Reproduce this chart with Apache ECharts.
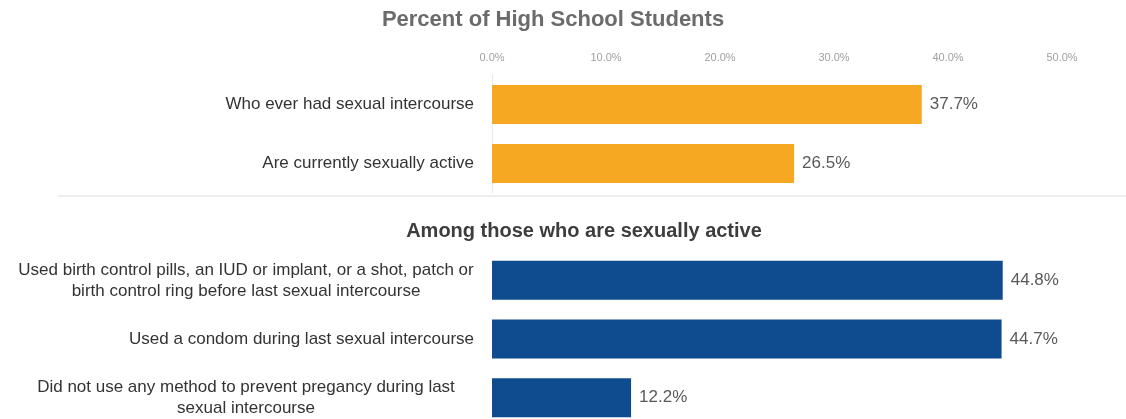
<!DOCTYPE html>
<html lang="en">
<head>
    <meta charset="UTF-8">
    <title>Percent of High School Students</title>
    <script src="https://cdn.jsdelivr.net/npm/echarts@6.0.0/dist/echarts.min.js"></script>
    <style>
        html, body { margin: 0; padding: 0; background: #fff; }
        #main { width: 1126px; height: 419px; }
    </style>
</head>
<body>
    <div id="main"></div>
    <script type="text/javascript">
        // data
        const topCategories = ['Who ever had sexual intercourse', 'Are currently sexually active'];
        const topValues = [37.7, 26.5];
        const bottomCategories = [
            'Used birth control pills, an IUD or implant, or a shot, patch or\nbirth control ring before last sexual intercourse',
            'Used a condom during last sexual intercourse',
            'Did not use any method to prevent pregancy during last\nsexual intercourse'
        ];
        const bottomValues = [44.8, 44.7, 12.2];
        const xTicks = [0, 10, 20, 30, 40, 50];

        const FONT = '"Liberation Sans", Arial, sans-serif';
        const LABEL_SIZE = 17;

        // measure text so multi-line labels get centred lines inside a right aligned block
        const ctx = document.createElement('canvas').getContext('2d');
        ctx.font = LABEL_SIZE + 'px ' + FONT;
        function catLabel(value) {
            const lines = value.split('\n');
            if (lines.length === 1) return value;
            return lines.map(l => '{c|' + l + '}').join('\n');
        }
        function richFor(cats) {
            let w = 0;
            cats.forEach(c => c.split('\n').forEach(l => { w = Math.max(w, ctx.measureText(l).width); }));
            return { c: { width: Math.ceil(w), align: 'center', fontSize: LABEL_SIZE, fontFamily: FONT, color: '#333', lineHeight: 21 } };
        }

        const chart = echarts.init(document.getElementById('main'));

        const xBase = {
            type: 'value',
            min: xTicks[0],
            max: xTicks[xTicks.length - 1],
            interval: 10,
            axisLine: { show: false },
            axisTick: { show: false },
            splitLine: { show: false }
        };

        const valueLabel = {
            show: true,
            position: 'right',
            distance: 8,
            formatter: p => p.value.toFixed(1) + '%',
            fontSize: 17,
            fontFamily: FONT,
            color: '#5a5a5a'
        };

        const option = {
            animation: false,
            title: [
                {
                    text: 'Percent of High School Students',
                    left: 548, top: 4, textAlign: 'center',
                    textStyle: { fontSize: 22, fontWeight: 'bold', fontFamily: FONT, color: '#6b6b6b' }
                },
                {
                    text: 'Among those who are sexually active',
                    left: 579, top: 216, textAlign: 'center',
                    textStyle: { fontSize: 20, fontWeight: 'bold', fontFamily: FONT, color: '#3d3d3d' }
                }
            ],
            grid: [
                { left: 492, right: 64, top: 75, height: 118, outerBoundsMode: 'none' },
                { left: 492, right: 64, top: 251, height: 176, outerBoundsMode: 'none' }
            ],
            xAxis: [
                Object.assign({}, xBase, {
                    gridIndex: 0,
                    position: 'top',
                    axisLabel: {
                        margin: 12,
                        fontSize: 11,
                        fontFamily: FONT,
                        color: '#a0a0a0',
                        formatter: v => v.toFixed(1) + '%'
                    }
                }),
                Object.assign({}, xBase, { gridIndex: 1, show: false })
            ],
            yAxis: [
                {
                    type: 'category', gridIndex: 0, inverse: true, data: topCategories,
                    axisLine: { show: true, lineStyle: { color: '#e8e8e8' } },
                    axisTick: { show: false },
                    axisLabel: { margin: 18, fontSize: LABEL_SIZE, fontFamily: FONT, color: '#333', formatter: catLabel, rich: richFor(topCategories) }
                },
                {
                    type: 'category', gridIndex: 1, inverse: true, data: bottomCategories,
                    axisLine: { show: false },
                    axisTick: { show: false },
                    axisLabel: { margin: 18, fontSize: LABEL_SIZE, fontFamily: FONT, color: '#333', lineHeight: 21, formatter: catLabel, rich: richFor(bottomCategories) }
                }
            ],
            series: [
                {
                    type: 'bar', xAxisIndex: 0, yAxisIndex: 0, data: topValues,
                    barWidth: 39, itemStyle: { color: '#f6a823' }, label: valueLabel
                },
                {
                    type: 'bar', xAxisIndex: 1, yAxisIndex: 1, data: bottomValues,
                    barWidth: 39, itemStyle: { color: '#0f4b8f' }, label: valueLabel
                }
            ],
            graphic: [
                {
                    type: 'line',
                    shape: { x1: 58, y1: 196, x2: 1126, y2: 196 },
                    style: { stroke: '#dedede', lineWidth: 1 }
                }
            ]
        };
        chart.setOption(option);
    </script>
</body>
</html>
